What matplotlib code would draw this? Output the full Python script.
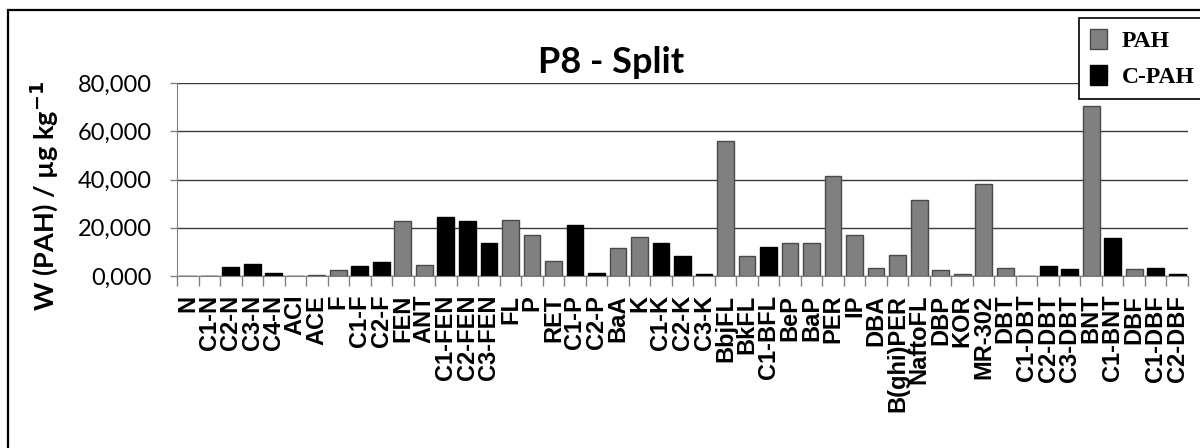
import matplotlib.pyplot as plt
from matplotlib.patches import Patch, Rectangle
from matplotlib.ticker import FixedLocator, FuncFormatter

# Compounds along the x axis
categories = ['N', 'C1-N', 'C2-N', 'C3-N', 'C4-N', 'ACI', 'ACE', 'F', 'C1-F', 'C2-F',
              'FEN', 'ANT', 'C1-FEN', 'C2-FEN', 'C3-FEN', 'FL', 'P', 'RET', 'C1-P', 'C2-P',
              'BaA', 'K', 'C1-K', 'C2-K', 'C3-K', 'BbjFL', 'BkFL', 'C1-BFL', 'BeP', 'BaP',
              'PER', 'IP', 'DBA', 'B(ghi)PER', 'NaftoFL', 'DBP', 'KOR', 'MR-302', 'DBT', 'C1-DBT',
              'C2-DBT', 'C3-DBT', 'BNT', 'C1-BNT', 'DBF', 'C1-DBF', 'C2-DBF']

# W (PAH) / ug kg-1
values = [0.0, 0.0, 3.9, 4.8, 1.3, 0.0, 0.6, 2.3, 4.3, 5.9,
          22.7, 4.7, 24.3, 22.8, 13.7, 23.2, 17.2, 6.1, 21.3, 1.3,
          11.4, 16.2, 13.7, 8.3, 0.7, 55.8, 8.3, 12.2, 13.7, 13.7,
          41.3, 17.2, 3.4, 8.7, 31.3, 2.4, 0.7, 38.3, 3.4, 0.0,
          4.2, 2.9, 70.3, 15.9, 2.9, 3.4, 0.7]

# group of each compound: parent PAH or alkylated C-PAH
groups = ['PAH', 'C-PAH', 'C-PAH', 'C-PAH', 'C-PAH', 'PAH', 'PAH', 'PAH', 'C-PAH', 'C-PAH',
          'PAH', 'PAH', 'C-PAH', 'C-PAH', 'C-PAH', 'PAH', 'PAH', 'PAH', 'C-PAH', 'C-PAH',
          'PAH', 'PAH', 'C-PAH', 'C-PAH', 'C-PAH', 'PAH', 'PAH', 'C-PAH', 'PAH', 'PAH',
          'PAH', 'PAH', 'PAH', 'PAH', 'PAH', 'PAH', 'PAH', 'PAH', 'PAH', 'C-PAH',
          'C-PAH', 'C-PAH', 'PAH', 'C-PAH', 'PAH', 'C-PAH', 'C-PAH']

y_ticks = [0, 20, 40, 60, 80]

fill = {'PAH': '#808080', 'C-PAH': '#000000'}
edge = {'PAH': '#4a4a4a', 'C-PAH': '#000000'}

fig = plt.figure(figsize=(12, 4.48), dpi=100)
ax = fig.add_axes([177 / 1200, 1 - 276 / 448, (1188 - 177) / 1200, (276 - 83) / 448])

x = list(range(len(categories)))
ax.bar(x, values, width=0.78,
       color=[fill[g] for g in groups],
       edgecolor=[edge[g] for g in groups], linewidth=1.0, zorder=3)

ax.set_xlim(-0.5, len(categories) - 0.5)
ax.set_ylim(0, 80)

# y axis
ax.yaxis.set_major_locator(FixedLocator(y_ticks))
ax.yaxis.set_major_formatter(FuncFormatter(lambda v, p: f"{v:.3f}".replace('.', ',')))
ax.grid(axis='y', color='#3a3a3a', linewidth=1.0, zorder=0)
ax.tick_params(axis='y', direction='out', length=5, width=1, color='#808080', pad=13)
for lab in ax.get_yticklabels():
    lab.set_fontfamily('Lato')
    lab.set_fontsize(17)

# x axis: labels at centres, tick marks at boundaries
ax.set_xticks(x)
ax.set_xticklabels(categories, rotation=90, fontsize=17, fontweight='bold',
                   fontfamily='Liberation Sans')
ax.tick_params(axis='x', which='major', length=0, pad=13.5)
ax.set_xticks([i - 0.5 for i in range(len(categories) + 1)], minor=True)
ax.tick_params(axis='x', which='minor', direction='out', length=7.2, width=1, color='#808080')

for s in ['top', 'right']:
    ax.spines[s].set_visible(False)
ax.spines['left'].set_color('#808080')
ax.spines['bottom'].set_color('#808080')
ax.spines['left'].set_zorder(4)
ax.spines['bottom'].set_zorder(4)

fig.text(44 / 1200, 1 - 196 / 448, r'W (PAH) / µg kg$^{\mathbf{-1}}$', rotation=90,
         ha='center', va='center', fontsize=19.5, fontweight='bold', fontfamily='Lato')

fig.text(611 / 1200, 1 - 73 / 448, 'P8 - Split', ha='center', va='baseline',
         fontsize=26, fontweight='bold', fontfamily='Lato')

# outer border of the chart area
fig.patches.append(Rectangle((8 / 1200, -0.2), 1.2, 1.2 - 10 / 448,
                             transform=fig.transFigure, fill=False,
                             edgecolor='black', linewidth=1.6))

handles = [Patch(facecolor=fill['PAH'], edgecolor=edge['PAH']),
           Patch(facecolor=fill['C-PAH'], edgecolor=edge['C-PAH'])]
leg = fig.legend(handles, ['PAH', 'C-PAH'], loc='upper left',
                 bbox_to_anchor=(1079 / 1200, 1 - 18 / 448),
                 prop={'family': 'Liberation Serif', 'weight': 'bold', 'size': 17},
                 frameon=True, fancybox=False, shadow=False,
                 handlelength=0.75, handleheight=0.95, handletextpad=0.6,
                 labelspacing=0.55, borderpad=0.45, borderaxespad=0)
leg.get_frame().set_edgecolor('black')
leg.get_frame().set_linewidth(1.2)
leg.get_frame().set_alpha(1)

fig.savefig('out.png', dpi=100)
